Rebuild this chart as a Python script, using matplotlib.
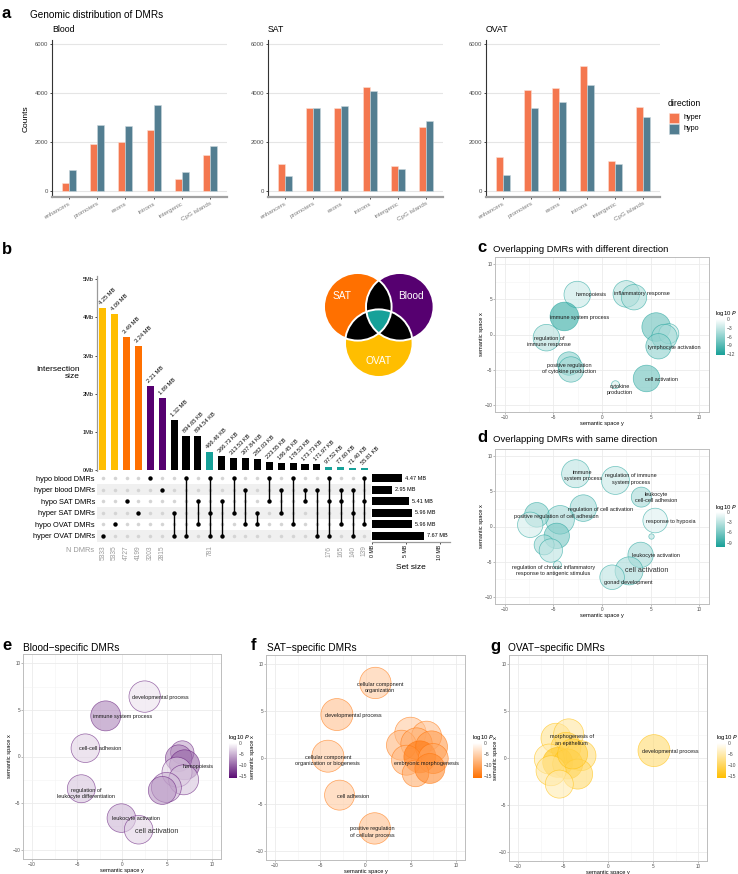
import numpy as np
import matplotlib
matplotlib.use("Agg")
import matplotlib.pyplot as plt
from matplotlib.colors import LinearSegmentedColormap, Normalize
from matplotlib.patches import Circle, Polygon, Rectangle
from matplotlib.cm import ScalarMappable

plt.rcParams["font.family"] = ["Liberation Sans", "DejaVu Sans"]

W, H = 738, 874

# ---------- panel a: genomic distribution
regions = ["enhancers", "promoters", "exons", "introns", "intergenic", "CpG islands"]
blood_hyper = [320, 1900, 2020, 2500, 500, 1450]
blood_hypo = [840, 2680, 2650, 3500, 780, 1850]
sat_hyper = [1090, 3400, 3400, 4230, 1010, 2610]
sat_hypo = [600, 3390, 3460, 4100, 900, 2860]
ovat_hyper = [1370, 4140, 4190, 5120, 1220, 3410]
ovat_hypo = [640, 3400, 3630, 4330, 1110, 3000]

# ---------- panel b: upset
set_names = ["hypo blood DMRs", "hyper blood DMRs", "hypo SAT DMRs",
             "hyper SAT DMRs", "hypo OVAT DMRs", "hyper OVAT DMRs"]
set_sizes = [4.47, 2.95, 5.41, 5.96, 5.96, 7.67]
inter_sizes = [4.25, 4.09, 3.49, 3.24, 2.21, 1.89, 1.32, 0.89465, 0.89454,
               0.46646, 0.36673, 0.31353, 0.30784, 0.28203, 0.22355, 0.18645,
               0.17853, 0.17373, 0.17197, 0.09752, 0.07760, 0.07140, 0.05581]
inter_labels = ["4.25 MB", "4.09 MB", "3.49 MB", "3.24 MB", "2.21 MB", "1.89 MB",
                "1.32 MB", "894.65 KB", "894.54 KB", "466.46 KB", "366.73 KB",
                "313.53 KB", "307.84 KB", "282.03 KB", "223.55 KB", "186.45 KB",
                "178.53 KB", "173.73 KB", "171.97 KB", "97.52 KB", "77.60 KB",
                "71.40 KB", "55.81 KB"]
inter_members = [[5], [4], [2], [3], [0], [1], [3, 5], [0, 5], [2, 4], [0, 3, 5],
                 [2, 5], [0, 3], [1, 4], [3, 4], [0, 2], [1, 3], [0, 4], [1, 2],
                 [1, 5], [0, 2, 5], [1, 2, 4], [1, 3, 5], [0, 2, 4]]
inter_group = ["OVAT", "OVAT", "SAT", "SAT", "Blood", "Blood", "pair", "pair", "pair",
               "all", "pair", "pair", "pair", "pair", "pair", "pair", "pair", "pair",
               "pair", "all", "all", "all", "all"]
n_dmrs = ["5333", "5335", "4727", "4199", "3203", "2815", "", "", "", "781",
          "", "", "", "", "", "", "", "", "", "176", "165", "140", "139"]
group_colors = {"OVAT": "#FFBE00", "SAT": "#FF7000", "Blood": "#560070",
                "pair": "black", "all": "#17A199"}
venn_sets = ["SAT", "Blood", "OVAT"]

# ---------- panel c: different direction
c_x = [-2.54, 2.50, 3.29, -3.87, -5.71, 5.57, 6.87, 6.42, 5.81, -3.39, -3.19, 1.38, 4.58]
c_y = [5.67, 5.76, 5.29, 2.56, -0.45, 1.06, 0.12, -0.35, -1.67, -4.12, -4.96, -7.13, -6.24]
c_size = [13.3, 13.3, 12.7, 14.3, 13.3, 14.3, 10, 12.7, 12.7, 11.7, 12.7, 4, 13.3]
c_p = [-3, -4, -4.5, -11, -4, -8, -3, -5, -6, -6, -5, -2, -8]
c_terms = ["hemopoiesis", "inflammatory response", "immune system process",
           "regulation of\nimmune response", "lymphocyte activation",
           "positive regulation\nof cytokine production", "cytokine\nproduction",
           "cell activation"]
c_lx = [-1.14, 4.14, -2.27, -5.43, 7.44, -3.36, 1.82, 6.12]
c_ly = [5.62, 5.76, 2.42, -0.96, -1.86, -4.87, -7.79, -6.38]

# ---------- panel d: same direction
d_x = [-2.71, 1.38, 4.04, -1.92, -4.31, -6.70, -7.38, -4.65, -5.95, -5.26, -4.58,
       5.47, 5.09, 3.97, 2.78, 1.04]
d_y = [7.49, 6.54, 4.17, 2.61, 0.95, 1.66, 0.24, -1.33, -2.61, -3.41, -5.45,
       0.85, -1.42, -4.03, -6.30, -7.20]
d_size = [14, 14, 10, 13.3, 14.3, 12.3, 12.7, 12.7, 10, 11.7, 4, 12.3, 2.7, 12.7, 14, 12.3]
d_p = [-3, -2.5, -4, -4, -4, -5, -2, -6, -4, -3, -2, -1.5, -3, -4, -4, -3]
d_terms = ["immune\nsystem process", "regulation of immune\nsystem process",
           "leukocyte\ncell-cell adhesion", "regulation of cell activation",
           "positive regulation of cell adhesion", "response to hypoxia",
           "leukocyte activation", "cell activation", "gonad development",
           "regulation of chronic inflammatory\nresponse to antigenic stimulus"]
d_lx = [-1.99, 2.95, 5.57, -0.15, -4.72, 7.10, 5.57, 4.62, 2.74, -4.99]
d_ly = [7.20, 6.73, 4.12, 2.46, 1.42, 0.66, -4.08, -6.30, -7.91, -6.30]

# ---------- panel e: blood-specific
e_x = [2.52, -1.81, -4.07, 6.70, 6.30, 6.96, 6.11, 6.85, 4.93, 4.48, -4.52, -0.07, 1.85]
e_y = [6.43, 4.36, 0.89, 0.43, -0.18, -0.89, -1.68, -2.50, -3.32, -3.64, -3.46, -6.61, -7.86]
e_size = [15.7, 15, 14.3, 11.7, 13.3, 15, 15, 15, 15, 14, 14, 14.3, 14.3]
e_p = [-2, -8, -3, -6, -8, -10, -3, -4, -5, -7, -4, -5, -3]
e_terms = ["developmental process", "immune system process", "cell-cell adhesion",
           "hemopoiesis", "regulation of\nleukocyte differentiation",
           "leukocyte activation", "cell activation"]
e_lx = [4.30, 0.04, -2.37, 8.48, -3.96, 1.59, 3.81]
e_ly = [6.36, 4.29, 0.86, -1.07, -3.93, -6.68, -8.04]

# ---------- panel f: SAT-specific
f_x = [1.09, -3.16, -4.16, -2.87, 1.02, 4.97, 6.75, 3.97, 5.64, 7.30, 4.53, 6.01,
       7.49, 5.53, 7.12]
f_y = [8.0, 4.61, 0.14, -4.04, -7.61, 2.64, 2.29, 1.32, 1.50, 1.14, -0.29, 0.07,
       -0.11, -1.71, -1.18]
f_size = [15.7, 16, 16, 15, 15.7, 15.7, 15, 15, 15.7, 16, 15, 16, 15, 13.3, 15]
f_p = [-6, -7, -6, -6, -7, -6, -7, -8, -9, -11, -8, -15, -10, -9, -13]
f_terms = ["cellular component\norganization", "developmental process",
           "cellular component\norganization or biogenesis", "cell adhesion",
           "positive regulation\nof cellular process", "embryonic morphogenesis"]
f_lx = [1.57, -1.39, -4.16, -1.39, 0.72, 6.75]
f_ly = [7.5, 4.5, -0.32, -4.21, -8.0, -0.61]

# ---------- panel g: OVAT-specific
g_x = [-5.78, -4.37, -4.67, -6.52, -3.00, -5.59, -4.48, -3.37, -6.33, -5.41, -3.93, 5.11]
g_y = [2.11, 2.58, 1.14, -0.11, 0.25, -0.47, -0.64, -1.72, -1.36, -2.79, 0.43, 0.79]
g_size = [15, 15, 15, 15, 15, 15, 15, 15, 15, 14, 15, 16]
g_p = [-7, -6, -10, -5, -8, -14, -12, -9, -6, -5, -11, -9]
g_terms = ["morphogenesis of\nan epithelium", "developmental process"]
g_lx = [-4.04, 6.89]
g_ly = [1.93, 0.68]

HYPER_COL = "#F4774F"
HYPO_COL = "#537E91"
GRAY_TXT = "#4D4D4D"

fig = plt.figure(figsize=(W / 100, H / 100), dpi=100)


def px_axes(l, t, r, b, **kw):
    return fig.add_axes([l / W, 1 - b / H, (r - l) / W, (b - t) / H], **kw)


# overlay for text, legend and venn (kept on top)
ov = fig.add_axes([0, 0, 1, 1])
ov.set_xlim(0, W)
ov.set_ylim(H, 0)
ov.axis("off")
ov.patch.set_alpha(0)
ov.set_zorder(10)

# ================= panel a =================
xa = np.arange(len(regions))
bar_axes = [(52, 40, 227, 197), (268, 40, 443, 197), (486, 40, 660, 197)]
a_hyper = [blood_hyper, sat_hyper, ovat_hyper]
a_hypo = [blood_hypo, sat_hypo, ovat_hypo]
for k, rect in enumerate(bar_axes):
    ax = px_axes(*rect)
    ax.bar(xa - 0.125, a_hyper[k], width=0.25, color=HYPER_COL, edgecolor="#FBE0D6",
           linewidth=0.4, zorder=2)
    ax.bar(xa + 0.125, a_hypo[k], width=0.25, color=HYPO_COL, edgecolor="#C9D6DC",
           linewidth=0.4, zorder=2)
    ax.set_xlim(-0.6, 5.6)
    ax.set_ylim(-245, 6163)
    ax.set_yticks([0, 2000, 4000, 6000])
    ax.yaxis.grid(True, color="#E5E5E5", lw=0.8, zorder=0)
    ax.set_xticks(xa)
    ax.set_xticklabels(regions, rotation=30, ha="right", rotation_mode="anchor",
                       fontsize=4.5, color="#7F7F7F")
    ax.tick_params(axis="y", labelsize=4.3, labelcolor=GRAY_TXT, length=1.5, width=0.5, pad=1)
    ax.tick_params(axis="x", length=1.5, width=0.5, pad=1.5)
    for s in ["top", "right"]:
        ax.spines[s].set_visible(False)
    ax.spines["left"].set_color("#333333")
    ax.spines["left"].set_linewidth(0.8)
    ax.spines["bottom"].set_color("#A0A0A0")
    ax.spines["bottom"].set_linewidth(1.6)
    ax.text(0, 1.04, ["Blood", "SAT", "OVAT"][k], transform=ax.transAxes,
            fontsize=6.3, va="bottom", ha="left")
    if k == 0:
        ax.set_ylabel("Counts", fontsize=6, labelpad=4)

ov.text(2, 13, "a", fontsize=12, fontweight="bold", va="center")
ov.text(30, 15, "Genomic distribution of DMRs", fontsize=7.2, va="center")
ov.text(668, 104, "direction", fontsize=6.3, va="center")
ov.add_patch(Rectangle((669, 112.5), 10, 10, fc=HYPER_COL, ec="#FBE0D6", lw=0.4))
ov.add_patch(Rectangle((669, 123.5), 10, 10, fc=HYPO_COL, ec="#C9D6DC", lw=0.4))
ov.text(683, 117.5, "hyper", fontsize=5.2, va="center")
ov.text(683, 128.5, "hypo", fontsize=5.2, va="center")

# ================= panel b =================
ov.text(2, 250, "b", fontsize=12, fontweight="bold", va="center")
ni = len(inter_sizes)
xlim_b = (-0.48, 22.55)
axb = px_axes(97, 276, 371, 471)
bcols = [group_colors[g] for g in inter_group]
axb.bar(np.arange(ni), inter_sizes, width=0.6, color=bcols)
for i, (h, lab) in enumerate(zip(inter_sizes, inter_labels)):
    axb.text(i - 0.05, h + 0.06, lab, rotation=45, rotation_mode="anchor",
             ha="left", va="bottom", fontsize=4.1)
axb.set_xlim(*xlim_b)
axb.set_ylim(-0.02, 5.08)
axb.set_yticks(range(6))
axb.set_yticklabels([f"{v}Mb" for v in range(6)])
axb.tick_params(axis="y", labelsize=4, length=1.5, width=0.5, pad=1)
axb.set_xticks([])
axb.patch.set_alpha(0)
for s in ["top", "right", "bottom"]:
    axb.spines[s].set_visible(False)
axb.spines["left"].set_color("#9A9A9A")
axb.spines["left"].set_linewidth(0.9)
ov.text(80, 373, "Intersection\nsize", fontsize=6, ha="right", va="center",
        multialignment="right", linespacing=1.15)

axm = px_axes(97, 472.5, 371, 541.5)
axm.set_xlim(*xlim_b)
axm.set_ylim(5.5, -0.5)
for r in range(len(set_names)):
    if r % 2 == 1:
        axm.axhspan(r - 0.5, r + 0.5, color="#F0F0F0", lw=0, zorder=0)
gx, gy = np.meshgrid(np.arange(ni), np.arange(len(set_names)))
axm.scatter(gx.ravel(), gy.ravel(), s=6.5, color="#D4D4D4", lw=0, zorder=2)
for i, mem in enumerate(inter_members):
    if len(mem) > 1:
        axm.plot([i, i], [min(mem), max(mem)], color="black", lw=1.0, zorder=3)
    axm.scatter([i] * len(mem), mem, s=10, color="black", lw=0, zorder=4)
    if n_dmrs[i]:
        axm.text(i, 5.85, n_dmrs[i], rotation=90, ha="center", va="top",
                 fontsize=4.8, color="#9A9A9A", clip_on=False)
axm.set_yticks(range(len(set_names)))
axm.set_yticklabels(set_names, fontsize=5.3)
axm.tick_params(length=0, pad=1.5)
axm.set_xticks([])
for s in axm.spines.values():
    s.set_visible(False)
ov.text(94, 551, "N DMRs", fontsize=5.3, color="#9A9A9A", ha="right", va="center")

axs = px_axes(372, 472.5, 450, 541.5)
axs.barh(range(len(set_names)), set_sizes, height=0.72, color="black")
for i, v in enumerate(set_sizes):
    axs.text(v + 0.45, i, f"{v:.2f} MB", fontsize=4, va="center")
axs.set_xlim(0, 11.5)
axs.set_ylim(5.5, -0.5)
axs.set_yticks([])
axs.set_xticks([0, 5, 10])
axs.set_xticklabels(["0 MB", "5 MB", "10 MB"], rotation=90, fontsize=3.8)
axs.tick_params(axis="x", length=1.5, width=0.5, pad=1)
for s in ["top", "right", "left"]:
    axs.spines[s].set_visible(False)
axs.spines["bottom"].set_color("#9A9A9A")
axs.spines["bottom"].set_linewidth(0.9)
axs.set_xlabel("Set size", fontsize=6, labelpad=3)

# venn diagram
R = 33.8
centers = {"SAT": (357.8, 306.8), "Blood": (399.8, 306.8), "OVAT": (378.8, 343.2)}
for name in venn_sets:
    ov.add_patch(Circle(centers[name], R, fc=group_colors[name], ec="none", zorder=2))
for a, b in [("SAT", "Blood"), ("SAT", "OVAT"), ("Blood", "OVAT")]:
    clipc = Circle(centers[a], R, transform=ov.transData)
    lens = Circle(centers[b], R, fc="black", ec="none", zorder=3)
    ov.add_patch(lens)
    lens.set_clip_path(clipc)
# triple region: boundary points inside all three circles
pts = []
for name in venn_sets:
    cx, cy = centers[name]
    t = np.linspace(0, 2 * np.pi, 720)
    px, py = cx + R * np.cos(t), cy + R * np.sin(t)
    inside = np.ones_like(px, dtype=bool)
    for other in venn_sets:
        if other != name:
            ox, oy = centers[other]
            inside &= (px - ox) ** 2 + (py - oy) ** 2 <= R ** 2 + 1e-6
    pts.append(np.column_stack([px[inside], py[inside]]))
pts = np.vstack(pts)
mc = pts.mean(axis=0)
order = np.argsort(np.arctan2(pts[:, 1] - mc[1], pts[:, 0] - mc[0]))
ov.add_patch(Polygon(pts[order], closed=True, fc=group_colors["all"], ec="none", zorder=4))
for name in venn_sets:
    ov.add_patch(Circle(centers[name], R, fc="none", ec="white", lw=1.4, zorder=5))
ov.text(342, 296, "SAT", color="white", fontsize=7.3, ha="center", va="center", zorder=6)
ov.text(411, 296, "Blood", color="white", fontsize=7.3, ha="center", va="center", zorder=6)
ov.text(378, 361, "OVAT", color="white", fontsize=7.3, ha="center", va="center", zorder=6)


# ================= GO panels =================
def go_panel(rect, xs, ys, size, ps, terms, lx, ly, top_color, vmin, cticks,
             cb_rect, big_terms=()):
    ax = px_axes(*rect)
    cmap = LinearSegmentedColormap.from_list("go", [top_color, "white"])
    norm = Normalize(vmin, 0)
    ax.scatter(xs, ys, s=(1.44 * np.array(size)) ** 2, c=ps, cmap=cmap, norm=norm,
               alpha=0.6, edgecolors=top_color, linewidths=0.5, zorder=2)
    for t, x, y in zip(terms, lx, ly):
        if t in big_terms:
            ax.text(x, y, t, fontsize=5.2, color="#333333", ha="center", va="center",
                    zorder=3)
        else:
            ax.text(x, y, t, fontsize=4, color="#1A1A1A", ha="center", va="center",
                    linespacing=1.3, zorder=3)
    ax.set_xlim(-11, 11)
    ax.set_ylim(-11, 11)
    ticks = [-10, -5, 0, 5, 10]
    ax.set_xticks(ticks)
    ax.set_yticks(ticks)
    ax.set_xticks([-7.5, -2.5, 2.5, 7.5], minor=True)
    ax.set_yticks([-7.5, -2.5, 2.5, 7.5], minor=True)
    ax.grid(True, which="major", color="#EBEBEB", lw=0.6, zorder=0)
    ax.grid(True, which="minor", color="#F3F3F3", lw=0.4, zorder=0)
    ax.set_axisbelow(True)
    ax.tick_params(which="major", labelsize=3.3, labelcolor=GRAY_TXT, length=1.2,
                   width=0.4, color="#888888", pad=0.8)
    ax.tick_params(which="minor", length=0)
    for s in ax.spines.values():
        s.set_color("#BDBDBD")
        s.set_linewidth(0.7)
    ax.set_xlabel("semantic space y", fontsize=4.1, labelpad=0.8)
    ax.set_ylabel("semantic space x", fontsize=4.1, labelpad=0.5)
    cax = px_axes(*cb_rect)
    cb = fig.colorbar(ScalarMappable(norm=norm, cmap=cmap), cax=cax)
    cb.set_ticks(cticks)
    cb.ax.tick_params(labelsize=3.6, length=0, pad=1.2, labelcolor=GRAY_TXT)
    cb.outline.set_visible(False)
    l, t, r, b = cb_rect
    ov.text(l - 1, t - 5, "log10 $\\it{P}$", fontsize=4.3, ha="left", va="center")
    return ax


ov.text(477, 248, "c", fontsize=12, fontweight="bold", va="center")
ov.text(493, 249, "Overlapping DMRs with different direction", fontsize=6.8, va="center")
go_panel((495, 257, 709, 412), c_x, c_y, c_size, c_p, c_terms, c_lx, c_ly,
         "#18A098", -12.3, [0, -3, -6, -9, -12], (716, 319, 725, 355))

ov.text(477, 438, "d", fontsize=12, fontweight="bold", va="center")
ov.text(493, 439, "Overlapping DMRs with same direction", fontsize=6.8, va="center")
go_panel((495, 449, 709, 604), d_x, d_y, d_size, d_p, d_terms, d_lx, d_ly,
         "#18A098", -10.3, [0, -3, -6, -9], (716, 512, 725, 547),
         big_terms=("cell activation",))

ov.text(2, 646, "e", fontsize=12, fontweight="bold", va="center")
ov.text(23, 648, "Blood\u2212specific DMRs", fontsize=7.3, va="center")
go_panel((23, 654, 221, 859), e_x, e_y, e_size, e_p, e_terms, e_lx, e_ly,
         "#5A0C73", -16, [0, -5, -10, -15], (229, 743, 237, 778),
         big_terms=("cell activation",))

ov.text(251, 646, "f", fontsize=12, fontweight="bold", va="center")
ov.text(267, 648, "SAT\u2212specific DMRs", fontsize=7.3, va="center")
go_panel((266, 655, 465, 860), f_x, f_y, f_size, f_p, f_terms, f_lx, f_ly,
         "#FF7000", -16, [0, -5, -10, -15], (473, 743, 482, 778))

ov.text(490, 647, "g", fontsize=12, fontweight="bold", va="center")
ov.text(508, 648, "OVAT\u2212specific DMRs", fontsize=7.3, va="center")
go_panel((509, 655, 707, 861), g_x, g_y, g_size, g_p, g_terms, g_lx, g_ly,
         "#FFBE00", -16, [0, -5, -10, -15], (717, 743, 726, 778))

fig.savefig("out.png", dpi=100)
